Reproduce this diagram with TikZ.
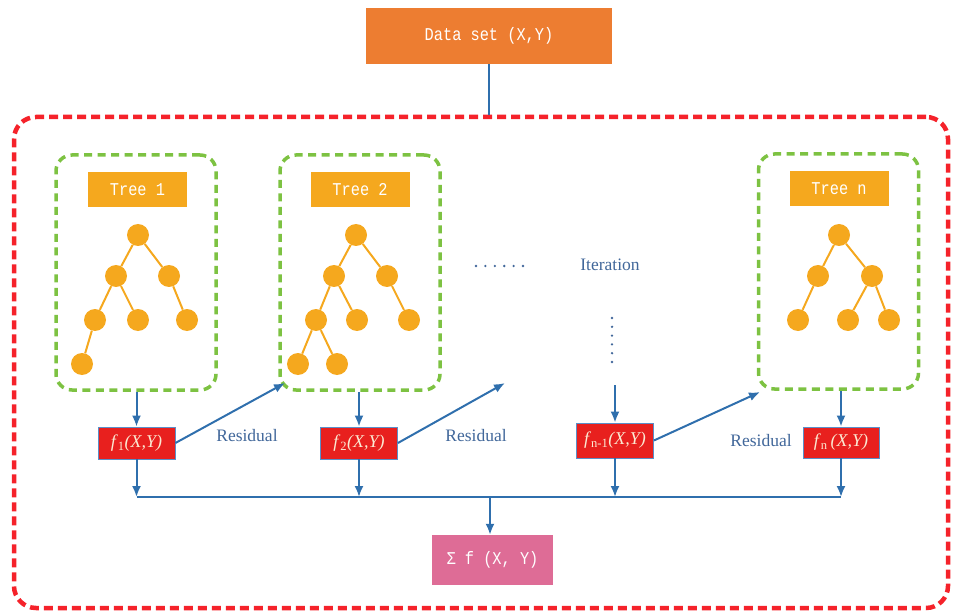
\documentclass[tikz,border=0pt]{standalone}
\usepackage{fontspec}
\setmainfont{Liberation Serif}
\newfontfamily\monof[FakeStretch=0.85]{Liberation Mono}
\usetikzlibrary{arrows.meta}
\definecolor{dataor}{HTML}{ED7D31}
\definecolor{treeor}{HTML}{F5A81E}
\definecolor{fred}{HTML}{E8201E}
\definecolor{fborder}{HTML}{5B8FC8}
\definecolor{conblue}{HTML}{2F6FAD}
\definecolor{txtblue}{HTML}{41679A}
\definecolor{gdash}{HTML}{7DC242}
\definecolor{rdash}{HTML}{F5222A}
\definecolor{sumpink}{HTML}{DE6C96}
\definecolor{ftext}{HTML}{FBE9D2}
\tikzset{
  monolbl/.style={font=\monof\fontsize{18}{18}\selectfont, text=white, inner sep=0pt},
  databox/.style={monolbl, fill=dataor, minimum width=246pt, minimum height=56pt},
  treelbl/.style={monolbl, fill=treeor, minimum width=99pt, minimum height=35pt},
  treebox/.style={draw=gdash, line width=3.5pt, dash pattern=on 8pt off 5.5pt, rounded corners=16pt, minimum width=160pt, minimum height=235pt, inner sep=0pt},
  framebox/.style={draw=rdash, line width=4.5pt, dash pattern=on 9pt off 5pt, rounded corners=22pt, minimum width=934pt, minimum height=491pt, inner sep=0pt},
  tn/.style={circle, fill=treeor, minimum size=22pt, inner sep=0pt},
  te/.style={draw=treeor, line width=2pt},
  fbox/.style={fill=fred, draw=fborder, line width=0.8pt, minimum width=77pt, minimum height=32pt, inner sep=0pt, text=ftext, font=\fontsize{18}{18}\selectfont},
  sumbox/.style={monolbl, fill=sumpink, minimum width=121pt, minimum height=50pt},
  conn/.style={draw=conblue, line width=2pt},
  arr/.style={conn, -{Latex[length=11pt,width=9pt]}},
  bluetxt/.style={text=txtblue, font=\fontsize{17.5}{17.5}\selectfont, inner sep=0pt}
}
\begin{document}
\begin{tikzpicture}[x=1pt,y=-1pt]
\useasboundingbox (0,0) rectangle (958,612);

\node[framebox] (frame) at (481,362.5) {};
\node[databox] (data) at (489,36) {Data set (X,Y)};
\draw[conn] (data.south) -- (data.south |- frame.north);

% tree boxes
\node[treebox] (tree1) at (136,272.5) {};
\node[treebox] (tree2) at (360,272.5) {};
\node[treebox] (treen) at (838.5,271.5) {};
\node[treelbl] (lbl1) at (137.5,189.5) {Tree 1};
\node[treelbl] (lbl2) at (360,189.5) {Tree 2};
\node[treelbl] (lbln) at (839,189) {Tree n};

% tree 1
\node[tn] (a0) at (138,235) {};
\node[tn] (a1) at (116,276) {};
\node[tn] (a2) at (169,276) {};
\node[tn] (a3) at (95,320) {};
\node[tn] (a4) at (138,320) {};
\node[tn] (a5) at (187,320) {};
\node[tn] (a6) at (82,364) {};
\draw[te] (a0) -- (a1) (a0) -- (a2) (a1) -- (a3) (a1) -- (a4) (a2) -- (a5) (a3) -- (a6);

% tree 2
\node[tn] (b0) at (356,235) {};
\node[tn] (b1) at (334,276) {};
\node[tn] (b2) at (387,276) {};
\node[tn] (b3) at (316,320) {};
\node[tn] (b4) at (357,320) {};
\node[tn] (b5) at (409,320) {};
\node[tn] (b6) at (298,364) {};
\node[tn] (b7) at (337,364) {};
\draw[te] (b0) -- (b1) (b0) -- (b2) (b1) -- (b3) (b1) -- (b4) (b2) -- (b5) (b3) -- (b6) (b3) -- (b7);

% tree n
\node[tn] (c0) at (839,235) {};
\node[tn] (c1) at (818,276) {};
\node[tn] (c2) at (872,276) {};
\node[tn] (c3) at (798,320) {};
\node[tn] (c4) at (848,320) {};
\node[tn] (c5) at (889,320) {};
\draw[te] (c0) -- (c1) (c0) -- (c2) (c1) -- (c3) (c2) -- (c4) (c2) -- (c5);

% f boxes
\node[fbox] (f1) at (136.5,443) {\textit{f}\textsubscript{1}\textit{(X,Y)}};
\node[fbox] (f2) at (359,443) {\textit{f}\textsubscript{2}\textit{(X,Y)}};
\node[fbox, minimum height=35pt] (fm) at (615,440.5) {\textit{f}\textsubscript{n-1}\textit{(X,Y)}};
\node[fbox, minimum width=76pt, minimum height=31pt] (fn) at (841,442.5) {\textit{f}\textsubscript{n}\,\textit{(X,Y)}};

% texts
\node[bluetxt] (res1) at (247,436) {Residual};
\node[bluetxt] (res2) at (476,436) {Residual};
\node[bluetxt] (res3) at (761,441) {Residual};
\node[bluetxt] (iter) at (610,265) {Iteration};
\foreach \k in {0,...,5} {\fill[txtblue] (476+9.4*\k,266) circle (1.3pt);}
\foreach \k in {0,...,5} {\fill[txtblue] (612,318+8.8*\k) circle (1.3pt);}

% arrows down into f boxes
\draw[arr] (f1.north |- tree1.south) -- (f1.north);
\draw[arr] (f2.north |- tree2.south) -- (f2.north);
\coordinate (mtop) at (615,385);
\draw[arr] (mtop) -- (fm.north);
\draw[arr] (fn.north |- treen.south) -- (fn.north);

% residual arrows
\coordinate (t2in) at (285,383);
\coordinate (t3in) at (505,383);
\coordinate (tnin) at (760,392);
\draw[arr] (f1.east) -- (t2in);
\draw[arr] (f2.east) -- (t3in);
\draw[arr] (fm.east) -- (tnin);

% bus
\coordinate (bus) at (490,497);
\node[sumbox] (sum) at (492.5,560) {Σ f (X, Y)};
\draw[conn] (f1.south |- bus) -- (fn.south |- bus);
\draw[arr] (f1.south) -- (f1.south |- bus);
\draw[arr] (f2.south) -- (f2.south |- bus);
\draw[arr] (fm.south) -- (fm.south |- bus);
\draw[arr] (fn.south) -- (fn.south |- bus);
\draw[arr] (bus) -- (bus |- sum.north);
\end{tikzpicture}
\end{document}
